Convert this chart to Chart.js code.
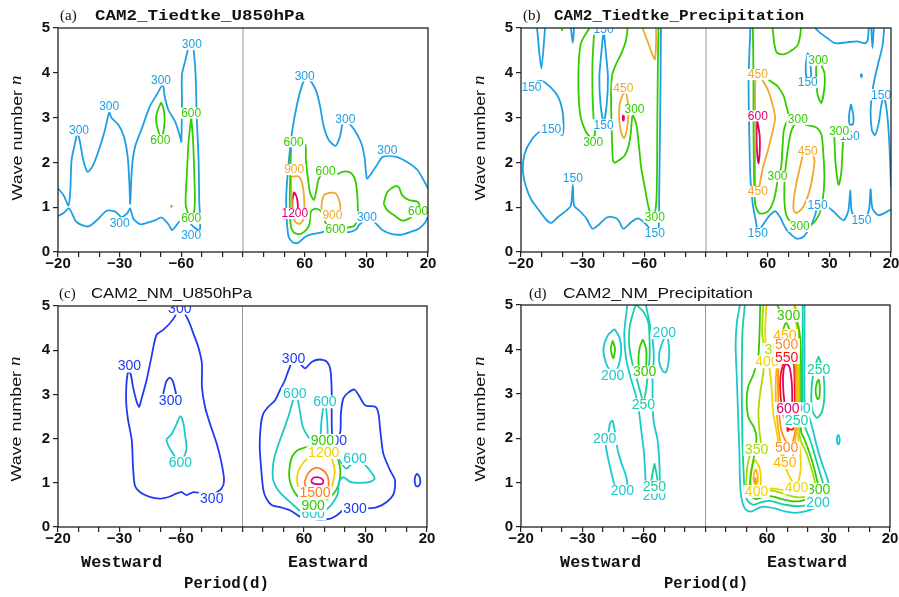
<!DOCTYPE html>
<html><head><meta charset="utf-8">
<script src="https://cdn.jsdelivr.net/npm/chart.js@4.4.1/dist/chart.umd.min.js"></script>
<style>
html,body{margin:0;padding:0;background:#fff;}
#wrap{position:relative;width:899px;height:597px;background:#fff;}
canvas{position:absolute;left:0;top:0;}
</style></head><body>
<div id="wrap">
<canvas id="ca" width="899" height="597"></canvas>
<canvas id="cb" width="899" height="597"></canvas>
<canvas id="cc" width="899" height="597"></canvas>
<canvas id="cd" width="899" height="597"></canvas>
</div>
<script>
// x = frequency in units of 1/60 cycles per day (negative = westward); y = zonal wave number
const X_MAJOR = [-3,-2,-1,0,1,2,3];
const X_MAJOR_LABELS = ['\u221220','\u221230','\u221260','','60','30','20'];
const X_MINOR_PER_MAJOR = 3;
const Y_TICKS = [0,1,2,3,4,5];

// ---------- (a) CAM2_Tiedtke_U850hPa ----------
const A_300_west = [[-3.0,1.42],[-2.91,1.27],[-2.83,1.04],[-2.80,1.38],[-2.78,2.05],[-2.72,2.46],[-2.68,2.65],[-2.64,2.43],[-2.59,2.05],[-2.52,1.79],[-2.43,1.94],[-2.32,2.35],[-2.24,2.72],[-2.17,3.11],[-2.13,2.99],[-2.02,2.84],[-1.93,2.57],[-1.87,2.13],[-1.84,1.46],[-1.83,1.08],[-1.80,1.90],[-1.75,2.35],[-1.64,2.76],[-1.51,3.25],[-1.40,3.51],[-1.30,3.73],[-1.27,3.47],[-1.21,3.17],[-1.10,2.91],[-1.02,2.57],[-1.00,2.46],[-0.99,3.40],[-0.99,3.96],[-0.94,4.25],[-0.86,4.66],[-0.81,4.59],[-0.77,3.99],[-0.75,3.02],[-0.72,2.05],[-0.71,1.16],[-0.70,0.49],[-0.80,0.56],[-0.91,0.71],[-1.02,0.69],[-1.10,0.56],[-1.15,0.49],[-1.21,0.62],[-1.32,0.77],[-1.42,0.71],[-1.56,0.65],[-1.67,0.62],[-1.78,0.75],[-1.83,0.97],[-1.88,0.86],[-1.97,0.78],[-2.07,0.90],[-2.21,0.92],[-2.37,0.71],[-2.51,0.57],[-2.70,0.67],[-2.82,0.97],[-2.91,0.87],[-3.0,0.80]];
const A_600_w1 = [[-1.33,3.34],[-1.29,3.21],[-1.27,2.95],[-1.29,2.69],[-1.32,2.54],[-1.37,2.69],[-1.41,2.95],[-1.39,3.13],[-1.33,3.34]];
const A_600_w2 = [[-0.84,3.01],[-0.81,2.50],[-0.79,1.75],[-0.78,1.16],[-0.80,0.86],[-0.88,0.84],[-0.93,1.08],[-0.91,1.75],[-0.88,2.50],[-0.84,3.01]];
const A_600_dot = [[-1.16,0.99],[-1.16,1.05]];
const A_300_east = [[3.0,0.82],[2.96,0.67],[2.85,0.52],[2.72,0.45],[2.58,0.39],[2.42,0.40],[2.26,0.49],[2.13,0.67],[2.01,0.74],[1.88,0.60],[1.84,0.51],[1.74,0.45],[1.61,0.44],[1.50,0.45],[1.39,0.49],[1.26,0.43],[1.12,0.40],[1.01,0.34],[0.90,0.21],[0.81,0.21],[0.74,0.34],[0.71,0.71],[0.70,1.23],[0.74,1.98],[0.80,2.72],[0.88,3.32],[0.96,3.73],[1.01,3.86],[1.07,3.84],[1.12,3.77],[1.19,3.58],[1.25,3.25],[1.31,2.80],[1.39,2.50],[1.50,2.37],[1.57,2.57],[1.61,2.84],[1.64,2.95],[1.72,2.87],[1.81,2.72],[1.91,2.46],[1.97,2.13],[2.01,1.64],[2.08,1.75],[2.18,1.96],[2.27,2.13],[2.47,2.13],[2.66,2.01],[2.83,1.83],[2.93,1.60],[3.0,1.42]];
const A_600_e1 = [[0.78,2.35],[0.77,1.90],[0.76,1.38],[0.76,0.86],[0.78,0.56],[0.83,0.43],[0.93,0.40],[1.03,0.50],[1.08,0.63],[1.10,0.90],[1.17,0.97],[1.26,0.92],[1.31,0.75],[1.36,0.60],[1.50,0.52],[1.66,0.54],[1.80,0.58],[1.86,0.75],[1.86,1.08],[1.84,1.46],[1.80,1.68],[1.72,1.79],[1.61,1.79],[1.50,1.72],[1.34,1.81],[1.23,1.64],[1.19,1.38],[1.15,1.16],[1.09,1.31],[1.05,1.68],[1.02,2.05],[1.01,2.39],[0.90,2.46],[0.78,2.35]];
const A_900_e1 = [[0.78,1.68],[0.79,1.23],[0.80,0.86],[0.85,0.67],[0.93,0.63],[0.99,0.78],[0.99,1.23],[0.96,1.53],[0.90,1.69],[0.78,1.68]];
const A_1200_e = [[0.83,1.34],[0.87,1.23],[0.89,1.04],[0.88,0.92],[0.81,0.92],[0.80,1.08],[0.81,1.23],[0.83,1.34]];
const A_900_e2 = [[1.31,1.27],[1.39,1.32],[1.50,1.31],[1.55,1.19],[1.58,1.01],[1.55,0.86],[1.34,0.86],[1.28,0.93],[1.28,1.12],[1.31,1.27]];
const A_600_e2 = [[2.28,1.08],[2.34,1.34],[2.47,1.47],[2.53,1.44],[2.58,1.27],[2.69,1.16],[2.83,1.12],[2.87,0.97],[2.77,0.82],[2.64,0.71],[2.56,0.71],[2.45,0.82],[2.34,0.93],[2.28,1.08]];
const A_LAB_300 = [[-2.66,2.72],[-2.17,3.26],[-1.33,3.84],[-0.83,4.63],[-2.00,0.65],[-0.84,0.37],[1.00,3.93],[1.66,2.97],[2.34,2.28],[2.01,0.78]];
const A_LAB_600 = [[-1.34,2.50],[-0.84,3.10],[-0.84,0.75],[0.82,2.46],[1.34,1.81],[1.50,0.50],[2.84,0.90]];
const A_LAB_900 = [[0.83,1.84],[1.45,0.82]];
const A_LAB_1200 = [[0.84,0.86]];

// ---------- (b) CAM2_Tiedtke_Precipitation ----------
const B_150_west = [[-3.0,3.68],[-2.67,3.82],[-2.53,3.69],[-2.40,3.47],[-2.33,3.17],[-2.31,2.80],[-2.33,2.61],[-2.42,2.68],[-2.51,2.74],[-2.69,2.69],[-2.83,2.50],[-2.94,2.20],[-2.97,1.83],[-2.92,1.46],[-2.83,1.16],[-2.69,0.90],[-2.59,0.72],[-2.51,0.65],[-2.40,0.78],[-2.26,0.93],[-2.19,1.04],[-2.16,1.50],[-2.14,1.04],[-2.05,0.92],[-1.94,0.75],[-1.84,0.52],[-1.73,0.62],[-1.61,0.77],[-1.48,0.77],[-1.42,0.71],[-1.34,0.52],[-1.21,0.67],[-1.10,0.75],[-0.96,0.60],[-0.85,0.41],[-0.77,0.52],[-0.76,1.16],[-0.75,2.28],[-0.74,3.40],[-0.73,5.0]];
const B_150_lens = [[-1.66,4.98],[-1.62,4.4],[-1.59,3.9],[-1.61,3.3],[-1.66,2.9],[-1.71,3.3],[-1.73,3.9],[-1.70,4.4],[-1.66,4.98]];
const B_150_v1 = [[-2.74,5.0],[-2.67,4.1],[-2.61,5.0]];
const B_150_v2 = [[-2.19,5.0],[-2.16,4.67],[-2.14,5.0]];
const B_300_w1 = [[-1.89,5.0],[-2.03,4.65],[-2.07,3.9],[-2.04,3.07],[-1.95,2.69],[-1.86,2.55],[-1.80,2.62],[-1.82,2.92],[-1.84,3.51],[-1.84,4.26],[-1.81,5.0]];
const B_300_w2 = [[-1.27,5.0],[-1.30,4.71],[-1.38,4.41],[-1.46,4.19],[-1.52,3.96],[-1.54,3.51],[-1.53,2.77],[-1.51,2.05],[-1.48,1.99],[-1.40,2.06],[-1.32,2.15],[-1.26,2.35],[-1.22,2.65],[-1.19,3.05],[-1.13,2.85],[-1.09,2.40],[-1.05,1.87],[-0.99,1.43],[-0.94,1.05],[-0.89,0.83],[-0.84,0.80],[-0.80,1.28],[-0.79,2.77],[-0.78,4.26],[-0.77,5.0]];
const B_300_tick = [[-2.34,5.0],[-2.33,4.93]];
const B_450_w = [[-1.30,3.59],[-1.27,3.37],[-1.26,3.07],[-1.28,2.77],[-1.33,2.54],[-1.38,2.69],[-1.41,2.99],[-1.40,3.29],[-1.35,3.51],[-1.30,3.59]];
const B_450_wtop = [[-1.03,5.0],[-0.95,4.71],[-0.87,4.41],[-0.83,4.30],[-0.81,4.63],[-0.81,5.0]];
const B_600_w = [[-1.34,3.07],[-1.33,3.0],[-1.34,2.93],[-1.35,3.0],[-1.34,3.07]];
const B_150_e1 = [[0.72,5.0],[0.69,3.89],[0.70,2.77],[0.72,1.65],[0.76,1.05],[0.81,0.68],[0.84,0.46],[0.90,0.56],[1.01,0.78],[1.12,0.91],[1.20,0.78],[1.31,0.49],[1.47,0.30],[1.58,0.34],[1.69,0.56],[1.77,0.82],[1.82,1.07],[1.96,1.02],[2.07,0.90],[2.18,0.75],[2.24,0.71],[2.31,0.93],[2.34,1.38],[2.36,0.93],[2.42,0.75],[2.50,0.71],[2.61,0.82],[2.65,1.01],[2.67,1.40],[2.70,0.97],[2.80,0.82],[3.0,0.95]];
const B_150_e2 = [[2.89,5.0],[2.86,4.59],[2.78,4.14],[2.71,3.69],[2.67,3.17],[2.69,2.72],[2.74,2.61],[2.80,2.87],[2.84,3.25],[2.88,3.47],[2.93,3.17],[2.97,2.50],[3.0,1.46]];
const B_150_top = [[1.77,5.0],[1.85,4.89],[1.96,4.78],[2.09,4.66],[2.28,4.68],[2.45,4.70],[2.58,4.66],[2.62,4.72],[2.64,5.0]];
const B_150_v3 = [[2.68,5.0],[2.70,4.55],[2.72,5.0]];
const B_150_dot = [[2.52,3.98],[2.53,3.94],[2.52,3.90],[2.51,3.94],[2.52,3.98]];
const B_150_l1 = [[1.65,4.45],[1.69,4.2],[1.70,3.9],[1.63,3.9],[1.62,4.2],[1.65,4.45]];
const B_150_l2 = [[2.35,3.30],[2.39,3.05],[2.38,2.85],[2.33,2.85],[2.32,3.05],[2.35,3.30]];
const B_300_e1 = [[0.76,5.0],[0.77,3.89],[0.77,2.77],[0.78,1.65],[0.80,1.05],[0.87,0.86],[1.00,0.90],[1.10,1.16],[1.16,1.57],[1.22,1.91],[1.24,2.32],[1.26,2.69],[1.30,2.88],[1.35,2.98],[1.45,2.97]];
const B_300_e2 = [[1.49,2.96],[1.62,2.84],[1.79,2.78],[1.87,2.63],[1.90,2.25],[1.92,1.65],[1.89,1.13],[1.83,0.83],[1.70,0.60],[1.52,0.57],[1.38,0.66],[1.30,0.83],[1.27,1.20],[1.28,1.72],[1.33,2.32],[1.38,2.69],[1.43,2.84],[1.49,2.96]];
const B_300_e3 = [[0.89,3.96],[1.03,3.83],[1.16,3.70],[1.26,3.48],[1.31,3.22],[1.35,3.01]];
const B_300_u = [[1.08,5.0],[1.11,4.63],[1.15,4.45],[1.26,4.41],[1.38,4.49],[1.49,4.63],[1.53,4.86],[1.54,5.0]];
const B_300_s1 = [[1.86,4.2],[1.92,4.0],[1.92,3.66],[1.87,3.33],[1.81,3.51],[1.79,3.89],[1.79,4.15],[1.86,4.2]];
const B_300_s2 = [[2.08,2.62],[2.10,2.0],[2.15,1.50],[2.19,1.72],[2.21,2.17],[2.21,2.55],[2.08,2.62]];
const B_450_e1 = [[0.84,3.96],[0.89,3.89],[1.00,3.63],[1.08,3.29],[1.12,2.99],[1.08,2.69],[1.00,2.25],[0.92,1.87],[0.87,1.50],[0.84,1.35],[0.80,1.50],[0.80,2.77],[0.80,3.81],[0.84,3.96]];
const B_450_e2 = [[1.57,2.17],[1.52,1.87],[1.46,1.50],[1.42,1.13],[1.42,0.94],[1.46,0.87],[1.54,0.94],[1.62,1.13],[1.69,1.43],[1.74,1.80],[1.76,2.06],[1.72,2.17],[1.57,2.17]];
const B_600_e = [[0.83,2.95],[0.87,2.6],[0.87,2.2],[0.85,1.98],[0.83,2.2],[0.82,2.6],[0.83,2.95]];
const B_LAB_150 = [[-2.83,3.69],[-2.51,2.74],[-2.16,1.64],[-1.66,4.97],[-1.66,2.84],[-0.83,0.41],[0.84,0.42],[1.65,3.78],[2.33,2.58],[1.81,1.05],[2.52,0.72],[2.84,3.51]];
const B_LAB_300 = [[-1.83,2.46],[-1.16,3.18],[-0.83,0.78],[1.16,1.69],[1.49,2.96],[1.52,0.57],[1.82,4.28],[2.16,2.69]];
const B_LAB_450 = [[-1.34,3.66],[0.84,3.96],[0.84,1.35],[1.65,2.26]];
const B_LAB_600 = [[0.84,3.04]];

// ---------- (c) CAM2_NM_U850hPa ----------
const C_300_west = [[-0.69,0.77],[-0.80,0.79],[-0.91,0.72],[-0.99,0.79],[-1.07,0.76],[-1.18,0.69],[-1.34,0.64],[-1.51,0.68],[-1.67,0.79],[-1.75,0.94],[-1.78,1.36],[-1.80,1.96],[-1.86,2.42],[-1.89,2.79],[-1.89,3.17],[-1.86,3.51],[-1.82,3.47],[-1.78,3.17],[-1.72,2.83],[-1.68,2.72],[-1.64,2.91],[-1.56,3.32],[-1.48,3.85],[-1.40,4.34],[-1.29,4.46],[-1.18,4.61],[-1.10,4.76],[-1.05,4.91],[-0.99,4.87],[-0.94,4.83],[-0.86,4.61],[-0.80,4.38],[-0.72,4.08],[-0.66,3.70],[-0.66,3.17],[-0.61,2.72],[-0.53,2.34],[-0.42,1.89],[-0.34,1.44],[-0.30,1.06],[-0.34,0.87],[-0.45,0.76],[-0.56,0.69],[-0.69,0.77]];
const C_300_arch = [[-1.29,3.01],[-1.24,3.29],[-1.18,3.38],[-1.13,3.29],[-1.08,3.01]];
const C_600_west = [[-1.24,1.98],[-1.15,2.11],[-1.07,2.34],[-1.01,2.51],[-0.96,2.34],[-0.93,2.04],[-0.91,1.81],[-0.93,1.66],[-1.01,1.45],[-1.13,1.66],[-1.21,1.85],[-1.24,1.98]];
const C_300_east = [[0.96,3.66],[1.02,3.59],[1.13,3.74],[1.26,3.79],[1.37,3.74],[1.43,3.55],[1.45,3.10],[1.45,2.57],[1.46,2.08],[1.52,1.96],[1.59,2.15],[1.60,2.57],[1.64,2.91],[1.72,3.04],[1.82,3.11],[1.89,2.98],[1.97,2.79],[2.02,2.74],[2.16,2.72],[2.21,2.57],[2.24,2.19],[2.29,1.66],[2.40,1.28],[2.48,1.06],[2.46,0.76],[2.35,0.57],[2.19,0.45],[2.02,0.42],[1.83,0.42],[1.64,0.38],[1.53,0.26],[1.43,0.19],[1.26,0.17],[1.10,0.19],[0.94,0.23],[0.77,0.38],[0.61,0.45],[0.48,0.49],[0.39,0.64],[0.34,0.83],[0.31,1.21],[0.28,1.81],[0.30,2.34],[0.34,2.57],[0.42,2.72],[0.53,2.87],[0.61,3.10],[0.69,3.32],[0.75,3.55],[0.83,3.78],[0.96,3.66]];
const C_300_dot = [[2.84,1.21],[2.88,1.13],[2.89,1.0],[2.86,0.92],[2.82,0.93],[2.80,1.04],[2.81,1.15],[2.84,1.21]];
const C_600_east = [[0.85,3.02],[0.90,2.87],[0.94,2.57],[0.98,2.27],[1.07,2.04],[1.15,1.96],[1.26,2.04],[1.28,2.34],[1.31,2.68],[1.34,2.83],[1.36,2.68],[1.38,2.34],[1.39,2.04],[1.45,1.74],[1.53,1.62],[1.61,1.44],[1.69,1.32],[1.83,1.50],[1.96,1.44],[2.07,1.28],[2.15,1.10],[2.07,1.02],[1.91,1.00],[1.75,1.02],[1.64,1.13],[1.57,1.02],[1.55,0.76],[1.48,0.57],[1.39,0.42],[1.28,0.32],[1.15,0.29],[0.98,0.32],[0.85,0.47],[0.71,0.64],[0.58,0.83],[0.50,1.06],[0.49,1.28],[0.52,1.59],[0.60,1.93],[0.69,2.27],[0.77,2.61],[0.82,2.87],[0.85,3.02]];
const C_900_east = [[1.47,1.81],[1.34,1.96],[1.18,1.85],[1.04,1.81],[0.90,1.74],[0.81,1.60],[0.77,1.40],[0.76,1.13],[0.80,0.91],[0.88,0.72],[0.99,0.58],[1.15,0.49],[1.31,0.57],[1.43,0.68],[1.53,0.85],[1.58,1.06],[1.59,1.28],[1.56,1.51],[1.52,1.68],[1.47,1.81]];
const C_1200_east = [[1.46,1.53],[1.34,1.68],[1.18,1.62],[1.04,1.53],[0.94,1.36],[0.89,1.15],[0.90,0.94],[0.99,0.79],[1.09,0.69],[1.23,0.66],[1.34,0.72],[1.43,0.83],[1.48,1.06],[1.50,1.28],[1.46,1.53]];
const C_1500_east = [[1.01,1.02],[1.07,1.22],[1.18,1.34],[1.28,1.31],[1.37,1.19],[1.40,1.02],[1.38,0.87],[1.18,0.79],[1.04,0.87],[1.01,1.02]];
const C_1800_east = [[1.12,1.06],[1.16,1.12],[1.25,1.12],[1.31,1.06],[1.30,0.98],[1.20,0.97],[1.13,1.00],[1.12,1.06]];
const C_LAB_300 = [[-1.84,3.64],[-1.02,4.95],[-1.17,2.86],[-0.50,0.64],[0.83,3.81],[1.51,1.96],[1.83,0.42]];
const C_LAB_600 = [[-1.01,1.45],[0.85,3.02],[1.34,2.83],[1.83,1.55],[1.15,0.30]];
const C_LAB_900 = [[1.30,1.96],[1.15,0.49]];
const C_LAB_1200 = [[1.32,1.68]];
const C_LAB_1500 = [[1.18,0.77]];

// ---------- (d) CAM2_NM_Precipitation ----------
const D_200_w1 = [[-1.48,4.46],[-1.40,4.27],[-1.37,4.01],[-1.40,3.70],[-1.46,3.52],[-1.56,3.55],[-1.62,3.70],[-1.66,4.01],[-1.59,4.31],[-1.48,4.46]];
const D_300_w1 = [[-1.51,4.20],[-1.47,4.01],[-1.50,3.80],[-1.54,4.01],[-1.51,4.20]];
const D_200_w2 = [[-1.27,5.0],[-1.32,4.38],[-1.29,3.78],[-1.21,3.33],[-1.13,2.95],[-1.08,2.58],[-1.04,2.12],[-1.00,1.67],[-0.98,1.22],[-0.96,0.77],[-0.88,0.70],[-0.72,0.81],[-0.74,0.99],[-0.75,1.45],[-0.78,1.97],[-0.84,2.35],[-0.86,2.73],[-0.86,3.10],[-0.86,3.48],[-0.84,3.78],[-0.86,4.23],[-0.91,4.61],[-0.97,5.0]];
const D_250_w1 = [[-1.14,5.0],[-1.23,4.53],[-1.24,4.08],[-1.18,3.63],[-1.10,3.25],[-1.05,2.99],[-1.01,2.83],[-0.97,3.06],[-0.94,3.40],[-0.91,3.78],[-0.91,4.23],[-0.93,4.61],[-1.01,4.85],[-1.12,5.0]];
const D_300_w2 = [[-1.02,4.23],[-0.97,4.04],[-0.96,3.78],[-0.98,3.57],[-1.07,3.57],[-1.09,3.78],[-1.07,4.04],[-1.02,4.23]];
const D_200_w3 = [[-0.64,4.34],[-0.70,4.16],[-0.75,3.93],[-0.75,3.70],[-0.70,3.52],[-0.65,3.48],[-0.61,3.63],[-0.59,3.93],[-0.61,4.23],[-0.64,4.34]];
const D_200_w4 = [[-1.42,0.85],[-1.28,0.92],[-1.29,1.14],[-1.37,1.45],[-1.43,1.75],[-1.47,2.12],[-1.51,2.39],[-1.55,2.35],[-1.58,2.12],[-1.62,1.99],[-1.62,1.82],[-1.58,1.52],[-1.53,1.22],[-1.48,0.96],[-1.42,0.85]];
const D_250_w2 = [[-0.83,1.43],[-0.79,1.14],[-0.78,0.96],[-0.88,0.96],[-0.87,1.14],[-0.83,1.43]];
const D_200_e = [[0.56,5.0],[0.51,4.61],[0.49,4.08],[0.51,3.33],[0.53,2.50],[0.55,1.75],[0.56,1.07],[0.58,0.69],[0.62,0.47],[0.67,0.38],[0.75,0.35],[0.89,0.45],[1.02,0.45],[1.16,0.41],[1.29,0.35],[1.46,0.32],[1.62,0.35],[1.78,0.43],[1.90,0.55],[1.97,0.72],[2.01,0.92],[1.97,1.14],[1.89,1.45],[1.81,1.82],[1.75,2.16],[1.69,2.46],[1.63,2.65],[1.61,2.88],[1.61,3.48],[1.61,4.23],[1.61,5.0]];
const D_250_e = [[0.64,5.0],[0.60,4.38],[0.59,3.10],[0.60,1.97],[0.62,1.22],[0.64,0.77],[0.69,0.58],[0.78,0.50],[0.91,0.56],[1.05,0.59],[1.18,0.54],[1.35,0.49],[1.51,0.47],[1.67,0.50],[1.81,0.58],[1.90,0.73],[1.92,0.92],[1.86,1.22],[1.78,1.60],[1.70,1.97],[1.62,2.24],[1.58,2.40],[1.58,2.75],[1.58,3.10],[1.58,3.86],[1.58,5.0]];
const D_250_ell = [[1.84,3.84],[1.90,3.59],[1.93,3.25],[1.93,2.88],[1.89,2.58],[1.81,2.46],[1.74,2.61],[1.72,2.95],[1.74,3.33],[1.78,3.63],[1.84,3.84]];
const D_300_ell = [[1.84,3.33],[1.86,3.14],[1.85,2.91],[1.82,2.88],[1.79,3.06],[1.81,3.25],[1.84,3.33]];
const D_200_dot = [[2.16,2.08],[2.18,2.0],[2.18,1.92],[2.16,1.86],[2.14,1.92],[2.14,2.02],[2.16,2.08]];
const D_300_e = [[0.89,5.0],[0.86,3.86],[0.78,3.44],[0.69,3.14],[0.67,2.80],[0.70,2.46],[0.79,2.24],[0.83,2.01],[0.80,1.67],[0.75,1.30],[0.72,0.92],[0.74,0.71],[0.81,0.63],[0.94,0.68],[1.08,0.69],[1.24,0.63],[1.40,0.58],[1.56,0.59],[1.73,0.68],[1.84,0.84],[1.81,1.07],[1.74,1.45],[1.67,1.75],[1.61,1.97],[1.555,2.15],[1.55,2.45],[1.555,2.73],[1.555,3.48],[1.54,4.23],[1.49,4.61],[1.35,4.76],[1.22,4.85],[1.17,5.0]];
const D_300_arch = [[1.25,4.40],[1.31,4.60],[1.38,4.40]];
const D_350_e = [[0.94,5.0],[0.92,4.38],[0.96,3.97],[0.94,3.48],[0.89,3.03],[0.86,2.58],[0.88,2.12],[0.90,1.86],[0.83,1.75],[0.72,1.60],[0.67,1.22],[0.67,0.88],[0.72,0.77],[0.86,0.77],[0.97,0.82],[1.13,0.81],[1.32,0.73],[1.48,0.67],[1.65,0.69],[1.75,0.77],[1.78,0.99],[1.71,1.37],[1.64,1.67],[1.56,1.90],[1.53,2.05],[1.53,2.35],[1.53,2.73],[1.53,3.48],[1.52,4.23],[1.46,5.0]];
const D_400_lobe = [[0.80,1.52],[0.87,1.37],[0.90,1.14],[0.89,0.92],[0.83,0.83],[0.75,0.92],[0.73,1.14],[0.76,1.37],[0.80,1.52]];
const D_450_lobe = [[0.82,1.30],[0.85,1.14],[0.84,0.99],[0.81,0.95],[0.78,1.07],[0.79,1.22],[0.82,1.30]];
const D_500_lobe = [[0.81,1.12],[0.82,1.02],[0.81,0.98],[0.80,1.04],[0.81,1.12]];
const D_400_e = [[0.99,5.0],[0.97,4.38],[1.00,3.86],[1.05,3.48],[1.08,3.03],[1.10,2.58],[1.16,2.12],[1.21,1.75],[1.29,1.37],[1.39,1.07],[1.46,0.92],[1.52,1.07],[1.55,1.40],[1.53,1.80],[1.50,2.10],[1.505,2.40],[1.51,2.73],[1.51,3.48],[1.50,4.23],[1.44,5.0]];
const D_400_bot = [[1.46,0.90],[1.32,0.83],[1.18,0.85],[1.05,0.87],[0.95,0.86]];
const D_450_e = [[1.29,4.31],[1.45,4.16],[1.49,3.48],[1.49,2.73],[1.47,2.12],[1.43,1.67],[1.37,1.45],[1.27,1.60],[1.21,1.97],[1.16,2.50],[1.14,3.10],[1.16,3.63],[1.21,4.08],[1.29,4.31]];
const D_500_e = [[1.32,4.10],[1.44,3.93],[1.47,3.10],[1.46,2.20],[1.43,1.97],[1.38,1.82],[1.29,1.97],[1.23,2.20],[1.19,2.73],[1.18,3.48],[1.20,3.86],[1.26,4.04],[1.32,4.10]];
const D_550_e = [[1.32,3.80],[1.43,3.70],[1.45,3.10],[1.45,2.40],[1.42,2.20],[1.34,2.22],[1.27,2.50],[1.22,2.95],[1.22,3.40],[1.26,3.65],[1.32,3.80]];
const D_550_dot = [[1.34,2.24],[1.35,2.20],[1.34,2.16],[1.33,2.20],[1.34,2.24]];
const D_600_e = [[1.30,3.68],[1.36,3.62],[1.40,3.30],[1.41,2.90],[1.40,2.60],[1.33,2.55],[1.28,2.85],[1.26,3.25],[1.27,3.55],[1.30,3.68]];
const D_LAB_200 = [[-1.51,3.42],[-0.67,4.38],[-1.64,1.99],[-1.35,0.81],[-0.83,0.71],[1.52,2.66],[1.83,0.55]];
const D_LAB_250 = [[-1.01,2.75],[-0.83,0.90],[1.84,3.55],[1.48,2.39]];
const D_LAB_300 = [[-0.99,3.49],[1.35,4.76],[1.84,0.84]];
const D_LAB_350 = [[1.15,4.00],[0.83,1.75]];
const D_LAB_400 = [[1.00,3.72],[0.83,0.80],[1.48,0.88]];
const D_LAB_450 = [[1.29,4.31],[1.29,1.45]];
const D_LAB_500 = [[1.32,4.10],[1.32,1.78]];
const D_LAB_550 = [[1.32,3.82]];
const D_LAB_600 = [[1.34,2.67]];

// ---------- styles ----------
const COL_AB = {150:'#1E9FE3',300:'#1E9FE3',600:'#33CC00',900:'#F0A830',1200:'#E2006E'};
const COL_B = {150:'#1E9FE3',300:'#33CC00',450:'#F0A830',600:'#E2006E'};
const COL_C = {300:'#1F3AF0',600:'#1CC8C8',900:'#2ECC00',1200:'#F0D000',1500:'#FF8020',1800:'#E0007A'};
const COL_D = {200:'#1CC8D0',250:'#14D29C',300:'#33CC00',350:'#A8DC00',400:'#F0D400',450:'#FFB400',500:'#FF8A28',550:'#FF1010',600:'#E0006E'};

const SANS = '"Liberation Sans", Arial, Helvetica, sans-serif';
const MONO = '"Liberation Mono", "Courier New", monospace';
const SERIF = '"Liberation Serif", "Times New Roman", serif';

const PANELS = [
 { id:'ca', area:{l:58,t:28,r:428,b:252}, colors:COL_AB, lblSize:12,
   contours:[[300,A_300_west],[600,A_600_w1],[600,A_600_w2],[600,A_600_dot],[300,A_300_east],[600,A_600_e1],[900,A_900_e1],[1200,A_1200_e],[900,A_900_e2],[600,A_600_e2]],
   labels:[[300,A_LAB_300],[600,A_LAB_600],[900,A_LAB_900],[1200,A_LAB_1200]],
   tag:{text:'(a)',x:60,y:19.5}, title:{text:'CAM2_Tiedtke_U850hPa',x:95,y:19.5,w:210,font:'bold 15px '+MONO},
   ytitle:{x:17.5,y:138}, bottom:null },
 { id:'cb', area:{l:521,t:28,r:891,b:252}, colors:COL_B, lblSize:12,
   contours:[[150,B_150_west],[150,B_150_lens],[150,B_150_v1],[150,B_150_v2],[300,B_300_w1],[300,B_300_w2],[300,B_300_tick],[450,B_450_w],[450,B_450_wtop],[600,B_600_w],
     [150,B_150_e1],[150,B_150_e2],[150,B_150_top],[150,B_150_v3],[150,B_150_dot],[150,B_150_l1],[150,B_150_l2],[300,B_300_e1],[300,B_300_e2],[300,B_300_e3],[300,B_300_u],[300,B_300_s1],[300,B_300_s2],[450,B_450_e1],[450,B_450_e2],[600,B_600_e]],
   labels:[[150,B_LAB_150],[300,B_LAB_300],[450,B_LAB_450],[600,B_LAB_600]],
   tag:{text:'(b)',x:523,y:19.5}, title:{text:'CAM2_Tiedtke_Precipitation',x:554,y:19.5,w:250,font:'bold 15px '+MONO},
   ytitle:{x:481,y:138}, bottom:null },
 { id:'cc', area:{l:58,t:306,r:427,b:527}, colors:COL_C, lblSize:14,
   contours:[[300,C_300_west],[300,C_300_arch],[600,C_600_west],[300,C_300_east],[300,C_300_dot],[600,C_600_east],[900,C_900_east],[1200,C_1200_east],[1500,C_1500_east],[1800,C_1800_east]],
   labels:[[300,C_LAB_300],[600,C_LAB_600],[900,C_LAB_900],[1200,C_LAB_1200],[1500,C_LAB_1500]],
   tag:{text:'(c)',x:59,y:298.3}, title:{text:'CAM2_NM_U850hPa',x:91,y:298.3,w:161,font:'15px '+SANS},
   ytitle:{x:17,y:419},
   bottom:{west:{x:81,w:81},east:{x:288,w:80},period:{x:184,w:85},y1:567.3,y2:587.5} },
 { id:'cd', area:{l:521,t:305,r:890,b:527}, colors:COL_D, lblSize:14,
   contours:[[200,D_200_w1],[300,D_300_w1],[200,D_200_w2],[250,D_250_w1],[300,D_300_w2],[200,D_200_w3],[200,D_200_w4],[250,D_250_w2],
     [200,D_200_e],[250,D_250_e],[250,D_250_ell],[300,D_300_ell],[200,D_200_dot],[300,D_300_e],[300,D_300_arch],[350,D_350_e],[400,D_400_lobe],[450,D_450_lobe],[500,D_500_lobe],[400,D_400_e],[400,D_400_bot],[450,D_450_e],[500,D_500_e],[550,D_550_e],[550,D_550_dot],[600,D_600_e]],
   labels:[[200,D_LAB_200],[250,D_LAB_250],[300,D_LAB_300],[350,D_LAB_350],[400,D_LAB_400],[450,D_LAB_450],[500,D_LAB_500],[550,D_LAB_550],[600,D_LAB_600]],
   tag:{text:'(d)',x:529,y:298.3}, title:{text:'CAM2_NM_Precipitation',x:563,y:298.3,w:190,font:'15px '+SANS},
   ytitle:{x:481,y:419},
   bottom:{west:{x:560,w:81},east:{x:767,w:80},period:{x:664,w:84},y1:567.3,y2:587.5} }
];

const Y_AXIS_W = 40, X_AXIS_H = 30;

function fitText(ctx, text, x, y, w, font){
  ctx.font = font;
  const m = ctx.measureText(text).width;
  ctx.save(); ctx.translate(x, y); ctx.scale(w / m, 1);
  ctx.textAlign = 'left'; ctx.textBaseline = 'alphabetic';
  ctx.fillText(text, 0, 0); ctx.restore();
}

function panelPlugin(P){
  return {
    id: 'panel_' + P.id,
    beforeDatasetsDraw(chart){
      const {ctx, chartArea:a, scales:{x}} = chart;
      const px = x.getPixelForValue(0);
      ctx.save(); ctx.strokeStyle = '#9a9a9a'; ctx.lineWidth = 1;
      ctx.beginPath(); ctx.moveTo(px, a.top); ctx.lineTo(px, a.bottom); ctx.stroke(); ctx.restore();
    },
    afterDatasetsDraw(chart){
      const {ctx, chartArea:a, scales:{x, y}} = chart;
      ctx.save();
      ctx.beginPath(); ctx.rect(a.left, a.top, a.right - a.left, a.bottom - a.top); ctx.clip();
      const fs = P.lblSize;
      ctx.font = fs + 'px ' + SANS; ctx.textAlign = 'center'; ctx.textBaseline = 'middle';
      for (const [lev, list] of P.labels){
        const t = String(lev);
        const w = ctx.measureText(t).width;
        for (const [vx, vy] of list){
          const px = x.getPixelForValue(vx), py = y.getPixelForValue(vy);
          ctx.fillStyle = '#fff';
          ctx.fillRect(px - w/2 - 1.5, py - fs*0.46, w + 3, fs*0.92);
          ctx.fillStyle = P.colors[lev];
          ctx.fillText(t, px, py + 0.5);
        }
      }
      ctx.restore();
      ctx.save(); ctx.strokeStyle = '#222'; ctx.lineWidth = 1.3;
      ctx.strokeRect(a.left, a.top, a.right - a.left, a.bottom - a.top); ctx.restore();
    },
    afterDraw(chart){
      const ctx = chart.ctx;
      ctx.save(); ctx.fillStyle = '#111';
      ctx.font = '15px ' + SERIF; ctx.textAlign = 'left'; ctx.textBaseline = 'alphabetic';
      ctx.fillText(P.tag.text, P.tag.x, P.tag.y);
      fitText(ctx, P.title.text, P.title.x, P.title.y, P.title.w, P.title.font);
      ctx.save(); ctx.translate(P.ytitle.x, P.ytitle.y); ctx.rotate(-Math.PI/2);
      const f1 = '15px ' + SANS, f2 = 'italic 16px ' + SERIF;
      ctx.font = f1; const w1 = ctx.measureText('Wave number ').width;
      ctx.font = f2; const w2 = ctx.measureText('n').width;
      const tot = w1 + w2; ctx.scale(125 / tot, 1);
      ctx.textBaseline = 'middle'; ctx.textAlign = 'left';
      ctx.font = f1; ctx.fillText('Wave number ', -tot/2, 0);
      ctx.font = f2; ctx.fillText('n', -tot/2 + w1, -1);
      ctx.restore();
      if (P.bottom){
        const B = P.bottom, f = 'bold 16px ' + MONO;
        fitText(ctx, 'Westward', B.west.x, B.y1, B.west.w, f);
        fitText(ctx, 'Eastward', B.east.x, B.y1, B.east.w, f);
        fitText(ctx, 'Period(d)', B.period.x, B.y2, B.period.w, f);
      }
      ctx.restore();
    }
  };
}

const xTickValues = [];
for (let k = X_MAJOR[0] * X_MINOR_PER_MAJOR; k <= X_MAJOR[X_MAJOR.length-1] * X_MINOR_PER_MAJOR; k++) xTickValues.push(k / X_MINOR_PER_MAJOR);
function xLabel(v){
  const i = X_MAJOR.findIndex(m => Math.abs(m - v) < 1e-6);
  return i >= 0 ? X_MAJOR_LABELS[i] : '';
}
const tickFont = {family: SANS, size: 15, weight: 'bold', lineHeight: 1.0};

for (const P of PANELS){
  const A = P.area;
  const datasets = P.contours.map(([lev, pts]) => ({
    data: pts.map(p => ({x: p[0], y: p[1]})),
    showLine: true, borderColor: P.colors[lev], borderWidth: 1.8,
    pointRadius: 0, pointHoverRadius: 0, fill: false, tension: 0.25
  }));
  new Chart(document.getElementById(P.id), {
    type: 'scatter',
    data: {datasets},
    options: {
      responsive: false, animation: false, devicePixelRatio: 1, events: [],
      layout: {autoPadding: false, padding: {left: A.l - Y_AXIS_W, top: A.t, right: 899 - A.r, bottom: 597 - A.b - X_AXIS_H}},
      plugins: {legend: {display: false}, tooltip: {enabled: false}, title: {display: false}},
      scales: {
        x: {type: 'linear', min: X_MAJOR[0], max: X_MAJOR[X_MAJOR.length-1],
            afterFit(s){ s.height = X_AXIS_H; },
            afterBuildTicks(s){ s.ticks = xTickValues.map(v => ({value: v})); },
            ticks: {autoSkip: false, maxRotation: 0, minRotation: 0, padding: -1, font: tickFont, color: '#111', callback: v => xLabel(v)},
            grid: {drawOnChartArea: false, drawTicks: true, tickLength: 5, color: '#222', lineWidth: 1.2},
            border: {display: false}},
        y: {type: 'linear', min: Y_TICKS[0], max: Y_TICKS[Y_TICKS.length-1],
            afterFit(s){ s.width = Y_AXIS_W; },
            afterBuildTicks(s){ s.ticks = Y_TICKS.map(v => ({value: v})); },
            ticks: {padding: 3, font: tickFont, color: '#111', callback: v => String(v)},
            grid: {drawOnChartArea: false, drawTicks: true, tickLength: 5, color: '#222', lineWidth: 1.2},
            border: {display: false}}
      }
    },
    plugins: [panelPlugin(P)]
  });
}
</script>
</body></html>
